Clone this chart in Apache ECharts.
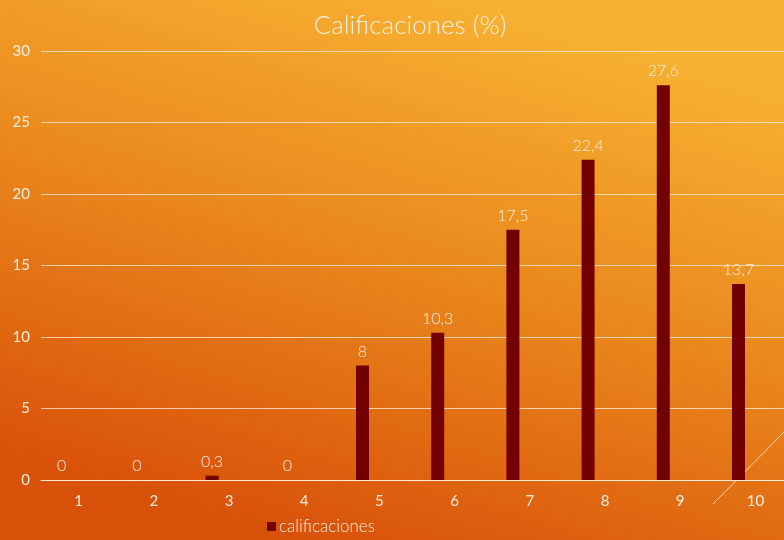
<!DOCTYPE html>
<html lang="es">
<head>
    <meta charset="UTF-8">
    <title>Calificaciones</title>
    <script src="https://cdn.jsdelivr.net/npm/echarts@6/dist/echarts.min.js"></script>
    <style>
        body { margin: 0; overflow: hidden; }
    </style>
</head>
<body>
<!-- el gráfico original está recortado por la derecha -->
<div id="main" style="width: 794px;height:540px;"></div>
<script>
    var categorias = ['1', '2', '3', '4', '5', '6', '7', '8', '9', '10'];
    var calificaciones = [0, 0, 0.3, 0, 8, 10.3, 17.5, 22.4, 27.6, 13.7];
    var yTicks = [0, 5, 10, 15, 20, 25, 30];

    var textColor = '#fdeee0';
    var fuente = 'Lato, "Open Sans", sans-serif';

    var myChart = echarts.init(document.getElementById('main'));
    var option = {
        backgroundColor: new echarts.graphic.LinearGradient(0.6, 0, 0.4, 1, [
            { offset: 0, color: '#f7b132' },
            { offset: 0.5, color: '#e9861c' },
            { offset: 1, color: '#d9520a' }
        ]),
        textStyle: { fontFamily: fuente },
        title: {
            text: 'Calificaciones (%)',
            left: 405,
            textAlign: 'center',
            top: 8,
            textStyle: {
                color: textColor,
                fontSize: 26,
                fontWeight: 300,
                fontFamily: fuente
            }
        },
        legend: {
            data: ['calificaciones'],
            left: 262,
            bottom: 0,
            icon: 'rect',
            itemWidth: 9,
            itemHeight: 9,
            itemGap: 4,
            itemStyle: { borderWidth: 0 },
            textStyle: { color: textColor, fontSize: 17, fontWeight: 300, padding: [0, 0, 0, -2] }
        },
        grid: {
            left: 41,
            right: 1,
            top: 51,
            bottom: 60,
            containLabel: false
        },
        xAxis: {
            type: 'category',
            data: categorias,
            axisTick: { show: false },
            axisLine: { lineStyle: { color: 'rgba(255,240,225,0.85)', width: 1 } },
            axisLabel: { color: textColor, fontSize: 15, margin: 14 }
        },
        yAxis: {
            type: 'value',
            min: yTicks[0],
            max: yTicks[yTicks.length - 1],
            interval: 5,
            axisLine: { show: false },
            axisTick: { show: false },
            axisLabel: { color: textColor, fontSize: 15, margin: 11 },
            splitLine: { lineStyle: { color: 'rgba(255,240,225,0.75)', width: 1 } }
        },
        graphic: [{
            type: 'line',
            z: -10,
            silent: true,
            shape: { x1: 713, y1: 504, x2: 790, y2: 426 },
            style: { stroke: 'rgba(255,235,215,0.8)', lineWidth: 1 }
        }],
        series: [
            {
                name: 'calificaciones',
                type: 'bar',
                data: calificaciones,
                barWidth: 13,
                barGap: '160%',
                itemStyle: { color: '#730000' },
                label: {
                    show: true,
                    position: 'top',
                    distance: 6,
                    color: textColor,
                    fontSize: 16,
                    fontWeight: 300,
                    formatter: function (p) {
                        return String(p.value).replace('.', ',');
                    }
                },
                z: 3
            },
            {
                name: 'vacio',
                type: 'bar',
                data: [],
                barWidth: 13
            }
        ]
    };
    myChart.setOption(option);
</script>
</body>
</html>
